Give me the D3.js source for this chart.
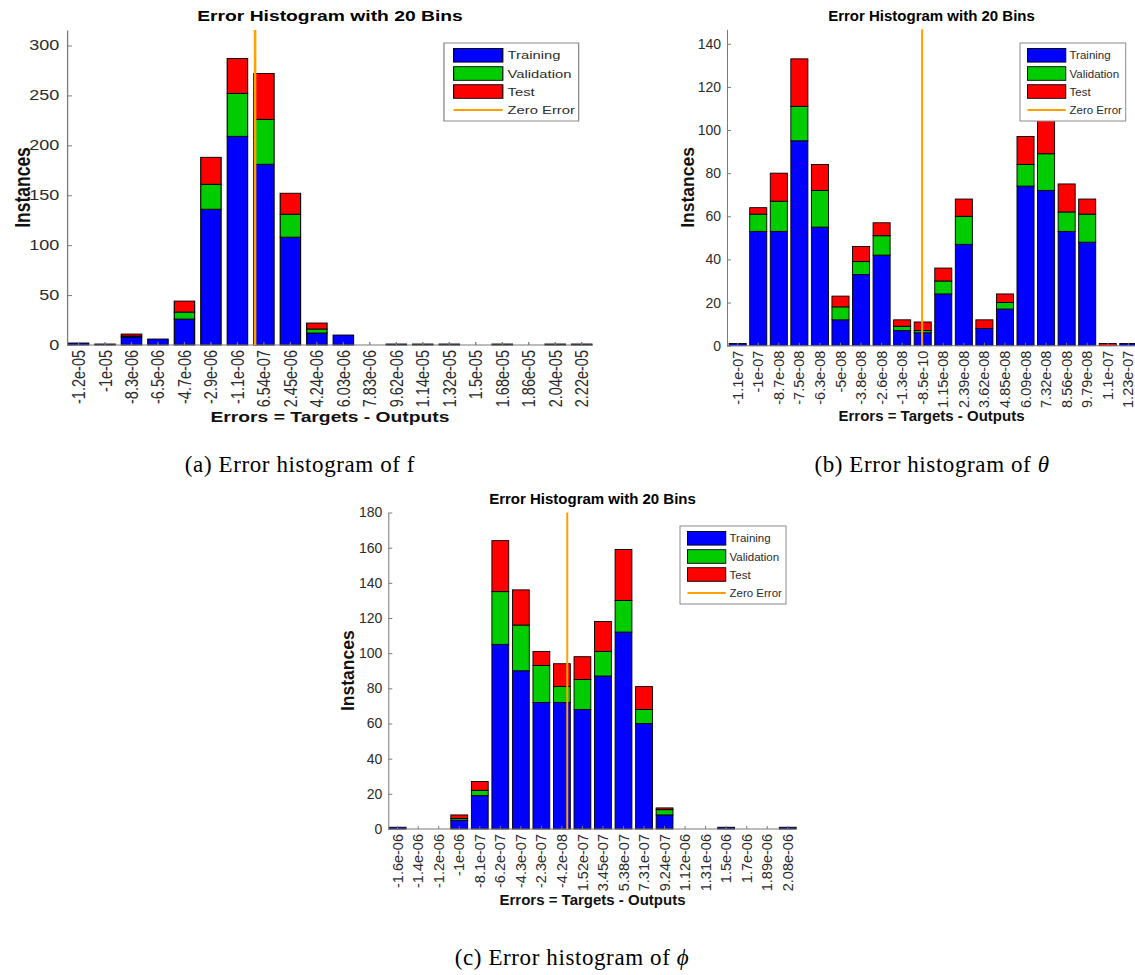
<!DOCTYPE html>
<html><head><meta charset="utf-8">
<script src="https://cdn.jsdelivr.net/npm/d3@7"></script>
<style>body{margin:0;background:#fff}svg{display:block}</style>
</head><body>
<script>
// ---------- DATA ----------
const labelsF = ["-1.2e-05","-1e-05","-8.3e-06","-6.5e-06","-4.7e-06","-2.9e-06","-1.1e-06","6.54e-07","2.45e-06","4.24e-06","6.03e-06","7.83e-06","9.62e-06","1.14e-05","1.32e-05","1.5e-05","1.68e-05","1.86e-05","2.04e-05","2.22e-05"];
const trainF = [2,1,8,6,26,136,209,181,108,12,10,0,1,1,1,0,1,0,1,1];
const valF   = [0,0,1,0,7,25,43,45,23,4,0,0,0,0,0,0,0,0,0,0];
const testF  = [0,0,2,0,11,27,35,46,21,6,0,0,0,0,0,0,0,0,0,0];
const yTicksF = [0,50,100,150,200,250,300];

const labelsTheta = ["-1.1e-07","-1e-07","-8.7e-08","-7.5e-08","-6.3e-08","-5e-08","-3.8e-08","-2.6e-08","-1.3e-08","-8.5e-10","1.15e-08","2.39e-08","3.62e-08","4.85e-08","6.09e-08","7.32e-08","8.56e-08","9.79e-08","1.1e-07","1.23e-07"];
const trainTheta = [1,53,53,95,55,12,33,42,7,6,24,47,8,17,74,72,53,48,0,1];
const valTheta   = [0,8,14,16,17,6,6,9,2,1,6,13,0,3,10,17,9,13,0,0];
const testTheta  = [0,3,13,22,12,5,7,6,3,4,6,8,4,4,13,19,13,7,1,0];
const yTicksTheta = [0,20,40,60,80,100,120,140];

const labelsPhi = ["-1.6e-06","-1.4e-06","-1.2e-06","-1e-06","-8.1e-07","-6.2e-07","-4.3e-07","-2.3e-07","-4.2e-08","1.52e-07","3.45e-07","5.38e-07","7.31e-07","9.24e-07","1.12e-06","1.31e-06","1.5e-06","1.7e-06","1.89e-06","2.08e-06"];
const trainPhi = [1,0,0,5,19,105,90,72,72,68,87,112,60,8,0,0,1,0,0,1];
const valPhi   = [0,0,0,1,3,30,26,21,9,17,14,18,8,3,0,0,0,0,0,0];
const testPhi  = [0,0,0,2,5,29,20,8,13,13,17,29,13,1,0,0,0,0,0,0];
const yTicksPhi = [0,20,40,60,80,100,120,140,160,180];

const seriesNames = ["Training","Validation","Test"];
const zeroName = "Zero Error";
const titleText = "Error Histogram with 20 Bins";
const xLabelText = "Errors = Targets - Outputs";
const yLabelText = "Instances";

// ---------- STYLE ----------
const colors = {Training:"#0000ff", Validation:"#00cc00", Test:"#ff0000"};
const zeroColor = "#ffa000";
const sans = "'Liberation Sans', Arial, Helvetica, sans-serif";
const serif = "'Liberation Serif', 'Times New Roman', serif";
const axisColor = "#7a7a7a";
const textColor = "#2b2b2b";

const W = 1135, H = 975;
const svg = d3.select("body").append("svg").attr("width", W).attr("height", H)
  .style("background", "#fff");

function drawPanel(cfg) {
  const g = svg.append("g").attr("transform", `translate(${cfg.tx},0) scale(${cfg.sx},1)`);
  const rows = cfg.labels.map((l, i) => ({label: l, Training: cfg.train[i], Validation: cfg.val[i], Test: cfg.test[i]}));
  const x = d3.scaleBand().domain(cfg.labels).range([cfg.bandL, cfg.bandR])
    .paddingInner(cfg.pad).paddingOuter(cfg.pad / 2);
  const y = d3.scaleLinear().domain([0, cfg.ymax]).range([cfg.y0, cfg.y1]);
  const stack = d3.stack().keys(seriesNames)(rows);

  // bars
  g.append("g").selectAll("g").data(stack).join("g")
    .attr("fill", d => colors[d.key])
    .selectAll("rect").data(d => d.filter(s => s[1] > s[0])).join("rect")
    .attr("x", d => x(d.data.label))
    .attr("width", x.bandwidth())
    .attr("y", d => y(d[1]))
    .attr("height", d => y(d[0]) - y(d[1]))
    .attr("stroke", "#000").attr("stroke-width", 0.9);

  // y axis
  const ya = g.append("g").attr("transform", `translate(${cfg.axisL},0)`)
    .call(d3.axisLeft(y).tickValues(cfg.yTicks).tickSizeInner(-4).tickSizeOuter(0).tickPadding(6));
  ya.select(".domain").attr("stroke", axisColor);
  ya.selectAll(".tick line").attr("stroke", axisColor);
  ya.selectAll("text").attr("fill", textColor).style("font-family", sans).style("font-size", "14px");

  // x axis
  const xa = g.append("g").attr("transform", `translate(0,${cfg.y0})`)
    .call(d3.axisBottom(x).tickSizeInner(-3).tickSizeOuter(0));
  xa.select(".domain").remove();
  xa.selectAll(".tick line").attr("stroke", axisColor);
  xa.selectAll("text")
    .attr("transform", "rotate(-90)")
    .attr("text-anchor", "end")
    .attr("x", -5).attr("y", 0).attr("dy", "0.35em")
    .attr("fill", textColor).style("font-family", sans).style("font-size", "14.5px");
  g.append("line").attr("x1", cfg.axisL).attr("x2", cfg.axisR)
    .attr("y1", cfg.y0).attr("y2", cfg.y0).attr("stroke", axisColor);

  // zero error line
  const xv = d3.scaleLinear()
    .domain([+cfg.labels[0], +cfg.labels[cfg.labels.length - 1]])
    .range([x(cfg.labels[0]) + x.bandwidth() / 2, x(cfg.labels[cfg.labels.length - 1]) + x.bandwidth() / 2]);
  g.append("line").attr("x1", xv(0)).attr("x2", xv(0))
    .attr("y1", y(0)).attr("y2", y(cfg.ymax))
    .attr("stroke", zeroColor).attr("stroke-width", 2);

  // title and labels
  const cx = (cfg.axisL + cfg.axisR) / 2;
  g.append("text").attr("x", cx).attr("y", cfg.titleY).attr("text-anchor", "middle")
    .style("font-family", sans).style("font-weight", "bold").style("font-size", "15px")
    .attr("fill", "#000").text(titleText);
  g.append("text").attr("x", cx).attr("y", cfg.xLabelY).attr("text-anchor", "middle")
    .style("font-family", sans).style("font-weight", "bold").style("font-size", "15px")
    .attr("fill", "#111").text(xLabelText);
  const ym = (cfg.y0 + cfg.y1) / 2;
  g.append("text").attr("transform", `translate(${cfg.axisL - cfg.yLabelOff},${ym}) rotate(-90)`)
    .attr("text-anchor", "middle").attr("dy", "0.35em")
    .style("font-family", sans).style("font-weight", "bold").style("font-size", "17.5px")
    .attr("fill", "#111").text(yLabelText);

  // legend
  const lg = g.append("g").attr("transform", `translate(${cfg.legX},${cfg.legY})`);
  lg.append("rect").attr("width", cfg.legW).attr("height", 78)
    .attr("fill", "#fff").attr("stroke", "#8a8a8a").attr("stroke-width", 1);
  const rowY = [12.3, 30.5, 48.5, 67];
  seriesNames.forEach((s, i) => {
    lg.append("rect").attr("x", 7.5).attr("y", rowY[i] - 6.8).attr("width", 38.3).attr("height", 13.6)
      .attr("fill", colors[s]).attr("stroke", "#000").attr("stroke-width", 0.9);
    lg.append("text").attr("x", 49.5).attr("y", rowY[i]).attr("dy", "0.35em")
      .style("font-family", sans).style("font-size", "11.5px").attr("fill", textColor).text(s);
  });
  lg.append("line").attr("x1", 7.5).attr("x2", 45.8).attr("y1", rowY[3]).attr("y2", rowY[3])
    .attr("stroke", zeroColor).attr("stroke-width", 2);
  lg.append("text").attr("x", 49.5).attr("y", rowY[3]).attr("dy", "0.35em")
    .style("font-family", sans).style("font-size", "11.5px").attr("fill", textColor).text(zeroName);
}

drawPanel({labels: labelsF, train: trainF, val: valF, test: testF, yTicks: yTicksF,
  tx: 0, sx: 1.285, bandL: 50.8, bandR: 463.0, axisL: 52.1, axisR: 461.5, pad: 0.23,
  y0: 345, y1: 30, ymax: 315.5, titleY: 21, xLabelY: 422, yLabelOff: 35,
  legX: 345.5, legY: 43, legW: 104.8});

drawPanel({labels: labelsTheta, train: trainTheta, val: valTheta, test: testTheta, yTicks: yTicksTheta,
  tx: 0, sx: 1, bandL: 727.4, bandR: 1138.6, axisL: 727, axisR: 1136, pad: 0.17,
  y0: 345.7, y1: 29.3, ymax: 146.7, titleY: 21, xLabelY: 421, yLabelOff: 39,
  legX: 1020, legY: 43, legW: 105.7});

drawPanel({labels: labelsPhi, train: trainPhi, val: valPhi, test: testPhi, yTicks: yTicksPhi,
  tx: 0, sx: 1, bandL: 387.4, bandR: 798, axisL: 388.3, axisR: 796.7, pad: 0.18,
  y0: 829, y1: 512.5, ymax: 180, titleY: 504, xLabelY: 905, yLabelOff: 40,
  legX: 680, legY: 526, legW: 106});

// captions
const captions = [
  {x: 300, y: 472, pre: "(a) Error histogram of f", sym: ""},
  {x: 932, y: 472, pre: "(b) Error histogram of ", sym: "\u03B8"},
  {x: 572, y: 965, pre: "(c) Error histogram of ", sym: "\u03D5"}
];
captions.forEach(c => {
  const t = svg.append("text").attr("x", c.x).attr("y", c.y).attr("text-anchor", "middle")
    .style("font-family", serif).style("font-size", "23px").style("letter-spacing", "0.6px")
    .attr("fill", "#000");
  t.append("tspan").text(c.pre);
  if (c.sym) t.append("tspan").style("font-style", "italic").text(c.sym);
});
</script>
</body></html>
